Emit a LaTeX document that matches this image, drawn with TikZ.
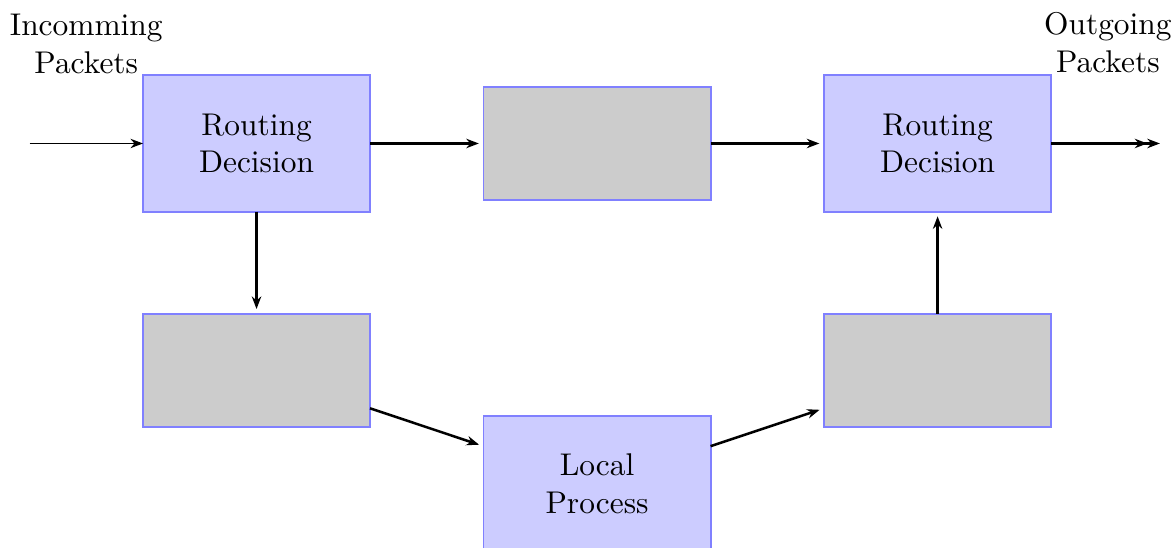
\documentclass[tikz,border=0pt]{standalone}
\usepackage{tikz}
\usetikzlibrary{arrows.meta, positioning}

\begin{document}
\begin{tikzpicture}[node distance=0.5in, >={Stealth[length=4pt, width=3pt]},
    decision/.style={draw=blue!50, semithick, fill=blue!20, outer sep=0pt, minimum width=1in, minimum height=0.6in, align=center},
    chain/.style={draw=blue!50, semithick, fill=gray!40, outer sep=0pt, minimum width=1in, minimum height=0.5in},
    flow/.style={->, thick, shorten >=1.5pt}]
      \useasboundingbox (-1.13in,-1.778in) rectangle (4.037in,0.632in);
      \node[decision] (rd1) {Routing\\Decision};
      \node[chain, right=of rd1] (fwd) {};
      \node[decision, right=of fwd] (rd2) {Routing\\Decision};
      \node[chain, below=0.45in of rd1] (inp) {};
      \node[chain, below=0.45in of rd2] (outp) {};
      \node[decision, below=0.95in of fwd] (lp) {Local\\Process};
      \coordinate[left=of rd1] (src);
      \coordinate[right=of rd2] (dst);

      \draw[->] (src) -- node[above=0.26in, align=center]{Incomming\\Packets} (rd1);
      \draw[flow] (rd1) -- (fwd);
      \draw[flow] (fwd) -- (rd2);
      \draw[flow] (rd1) -- (inp);
      \draw[flow] (inp) -- (lp);
      \draw[flow] (lp) -- (outp);
      \draw[flow] (outp) -- (rd2);
      \draw[flow, ->>] (rd2) -- node[above=0.26in, align=center]{Outgoing\\Packets} (dst);
    \end{tikzpicture}
\end{document}
